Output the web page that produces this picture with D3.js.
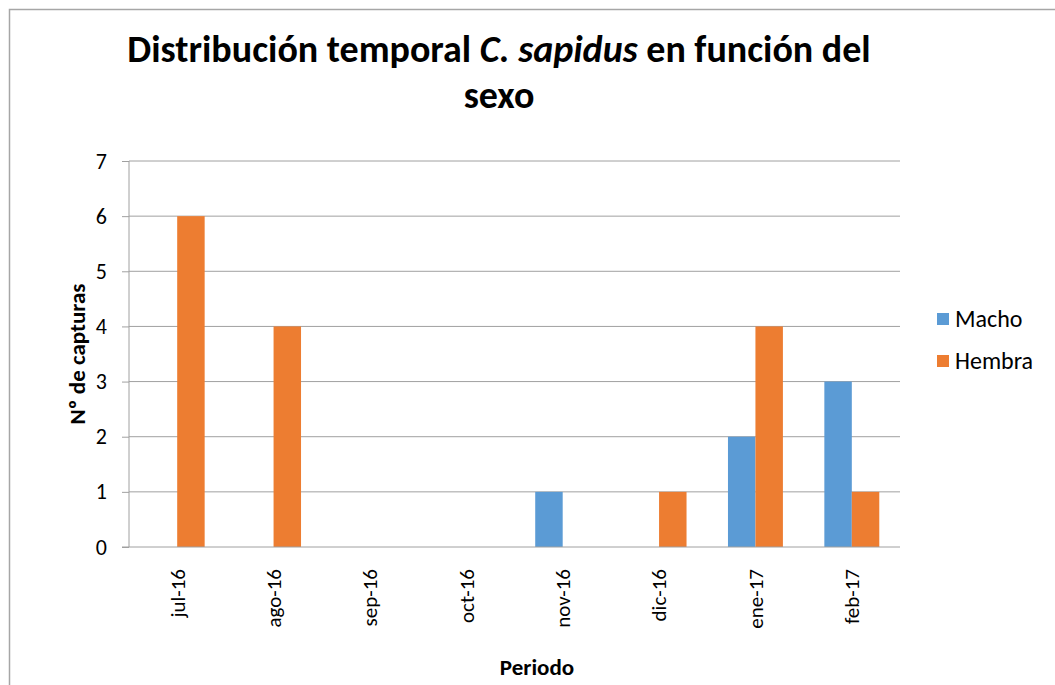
<!DOCTYPE html>
<html>
<head>
<meta charset="utf-8">
<script src="https://cdn.jsdelivr.net/npm/d3@7"></script>
<style>
    body { margin: 0; background: #fff; }
    text { font-family: Carlito, "Liberation Sans Narrow", "Open Sans", sans-serif; fill: #000; }
</style>
</head>
<body>
<div id="chart"></div>
<script>
// Chart data
const periods = ["jul-16", "ago-16", "sep-16", "oct-16", "nov-16", "dic-16", "ene-17", "feb-17"];
const macho = [0, 0, 0, 0, 1, 0, 2, 3];
const hembra = [6, 4, 0, 0, 0, 1, 4, 1];
const seriesNames = ["Macho", "Hembra"];
const seriesColors = ["#5B9BD5", "#ED7D31"];
const yTicks = [0, 1, 2, 3, 4, 5, 6, 7];

const W = 1055, H = 685;
const margin = { top: 161, right: 155, bottom: 138, left: 129 };
const width = W - margin.left - margin.right;
const height = H - margin.top - margin.bottom;
const fontStack = "Carlito, 'Liberation Sans Narrow', 'Open Sans', sans-serif";

const svg = d3.select("#chart")
    .append("svg")
    .attr("width", W)
    .attr("height", H);

// Outer chart frame (only top and left edges visible)
svg.append("path")
    .attr("d", `M9.5,${H} V9.5 H${W}`)
    .attr("fill", "none")
    .attr("stroke", "#a6a6a6")
    .attr("stroke-width", 1.5);

const g = svg.append("g")
    .attr("transform", `translate(${margin.left},${margin.top})`);

// Scales
const x0 = d3.scaleBand()
    .domain(periods)
    .range([0, width])
    .paddingInner(0.43)
    .paddingOuter(0.215);

const x1 = d3.scaleBand()
    .domain(seriesNames)
    .range([0, x0.bandwidth()]);

const y = d3.scaleLinear()
    .domain([0, 7])
    .range([height, 0]);

// Gridlines
g.append("g")
    .selectAll("line")
    .data(yTicks.filter(d => d > 0))
    .join("line")
    .attr("x1", 0)
    .attr("x2", width)
    .attr("y1", d => y(d))
    .attr("y2", d => y(d))
    .attr("stroke", "#a0a0a0")
    .attr("stroke-width", 1);

// Y axis
const yAxis = d3.axisLeft(y)
    .tickValues(yTicks)
    .tickSize(7)
    .tickPadding(15)
    .tickFormat(d3.format("d"));

g.append("g")
    .attr("class", "y-axis")
    .call(yAxis)
    .call(a => a.select(".domain").attr("stroke", "#a0a0a0").attr("d", `M0,${height}V0`))
    .call(a => a.selectAll(".tick line").attr("stroke", "#a0a0a0"))
    .call(a => a.selectAll(".tick text")
        .attr("font-size", 22)
        .attr("fill", "#000")
        .style("font-family", fontStack));

// Bars
const rows = periods.map((p, i) => ({ period: p, values: [macho[i], hembra[i]] }));

g.append("g")
    .selectAll("g")
    .data(rows)
    .join("g")
    .attr("transform", d => `translate(${x0(d.period)},0)`)
    .selectAll("rect")
    .data(d => d.values.map((v, k) => ({ name: seriesNames[k], value: v, color: seriesColors[k] })))
    .join("rect")
    .attr("x", d => x1(d.name))
    .attr("width", x1.bandwidth())
    .attr("y", d => y(d.value))
    .attr("height", d => height - y(d.value))
    .attr("fill", d => d.color);

// X axis
const xAxis = d3.axisBottom(x0)
    .tickSize(0)
    .tickPadding(0);

g.append("g")
    .attr("class", "x-axis")
    .attr("transform", `translate(0,${height})`)
    .call(xAxis)
    .call(a => a.select(".domain").attr("stroke", "#a0a0a0").attr("d", `M-7,0H${width}`))
    .call(a => a.selectAll(".tick text")
        .attr("font-size", 21)
        .attr("fill", "#000")
        .attr("text-anchor", "end")
        .attr("dy", "0.35em")
        .attr("transform", "translate(0,22) rotate(-90)")
        .attr("x", 0)
        .attr("y", 0)
        .style("font-family", fontStack));

// Axis titles
svg.append("text")
    .attr("transform", `translate(85,${margin.top + height / 2}) rotate(-90)`)
    .attr("text-anchor", "middle")
    .attr("font-size", 23)
    .attr("font-weight", "bold")
    .text("Nº de capturas");

svg.append("text")
    .attr("x", 537)
    .attr("y", 675)
    .attr("text-anchor", "middle")
    .attr("font-size", 23)
    .attr("font-weight", "bold")
    .text("Periodo");

// Title
const title = svg.append("text")
    .attr("x", 499)
    .attr("y", 62)
    .attr("text-anchor", "middle")
    .attr("font-size", 38)
    .attr("font-weight", "bold");
title.append("tspan").text("Distribución temporal ");
title.append("tspan").attr("font-style", "italic").text("C. sapidus");
title.append("tspan").text(" en función del");

svg.append("text")
    .attr("x", 499)
    .attr("y", 108)
    .attr("text-anchor", "middle")
    .attr("font-size", 38)
    .attr("font-weight", "bold")
    .text("sexo");

// Legend
const legend = svg.append("g")
    .attr("transform", "translate(937,313)")
    .selectAll("g")
    .data(seriesNames)
    .join("g")
    .attr("transform", (d, i) => `translate(0,${i * 42})`);

legend.append("rect")
    .attr("width", 12)
    .attr("height", 12)
    .attr("fill", (d, i) => seriesColors[i]);

legend.append("text")
    .attr("x", 18)
    .attr("y", 6)
    .attr("dy", "0.35em")
    .attr("font-size", 24)
    .text(d => d);
</script>
</body>
</html>
